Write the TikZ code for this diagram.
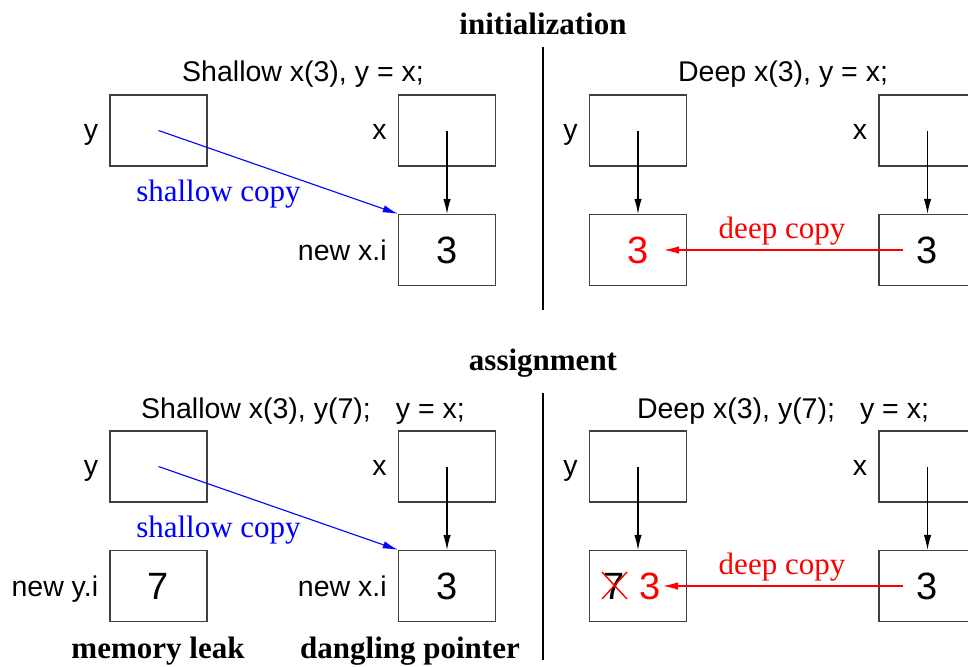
\documentclass[tikz,border=0pt]{standalone}
\usepackage{fontspec}
\setmainfont{Liberation Serif}
\setsansfont{Liberation Sans}
\usetikzlibrary{arrows.meta}
\begin{document}
\begin{tikzpicture}[x=1pt,y=-1pt,
 cell/.style={draw=black!75,line width=1.3pt,minimum width=97pt,minimum height=71pt,inner sep=0pt},
 lab/.style={font=\fontsize{28.5}{30}\selectfont\sffamily,inner sep=0pt,anchor=base east},
 ttl/.style={font=\fontsize{28.5}{30}\selectfont\sffamily,inner sep=0pt,anchor=base},
 num/.style={font=\fontsize{38}{40}\selectfont\sffamily,inner sep=0pt},
 head/.style={font=\fontsize{31}{34}\selectfont\rmfamily\bfseries,inner sep=0pt,anchor=base},
 note/.style={font=\fontsize{31}{34}\selectfont\rmfamily,inner sep=0pt,anchor=base},
 ptr/.style={-{Latex[length=15pt,width=7.5pt]},line width=1.1pt},
 divider/.style={line width=2pt,black},
]
\useasboundingbox (0,0) rectangle (968,666);
\clip (0,0) rectangle (968,666);

% ---------- headings ----------
\node[head] (hinit) at (543,35) {initialization};
\node[head] (hasg) at (543,370) {assignment};
\coordinate (d1a) at (543,47); \coordinate (d1b) at (543,310);
\coordinate (d2a) at (543,393); \coordinate (d2b) at (543,660);
\draw[divider] (d1a) -- (d1b);
\draw[divider] (d2a) -- (d2b);

% ---------- top left: shallow initialization ----------
\node[ttl] (t1) at (303,82) {Shallow x(3), y = x;};
\node[cell] (ys) at (158.5,130.5) {};
\node[cell] (xs) at (447,130.5) {};
\node[cell] (nxs) at (447,250) {};
\node[num] (nxsv) at (nxs.center) {3};
\node[lab] (lys) at ([xshift=-11pt,yshift=-9pt]ys.west) {y};
\node[lab] (lxs) at ([xshift=-11pt,yshift=-9pt]xs.west) {x};
\node[lab] (lnxs) at ([xshift=-11pt,yshift=-10pt]nxs.west) {new x.i};
\draw[ptr] (xs.center) -- (nxs.north);
\draw[ptr,blue] (ys.center) -- (nxs.north west);
\node[note,blue] (sc1) at (218.5,201) {shallow copy};

% ---------- top right: deep initialization ----------
\node[ttl] (t2) at (783,82) {Deep x(3), y = x;};
\node[cell] (yd) at (638,130.5) {};
\node[cell] (xd) at (927.5,130.5) {};
\node[cell] (nyd) at (638,250) {};
\node[cell] (nxd) at (927.5,250) {};
\node[num,red] (nydv) at (nyd.center) {3};
\node[num] (nxdv) at (nxd.center) {3};
\node[lab] (lyd) at ([xshift=-11pt,yshift=-9pt]yd.west) {y};
\node[lab] (lxd) at ([xshift=-11pt,yshift=-9pt]xd.west) {x};
\draw[ptr] (yd.center) -- (nyd.north);
\draw[ptr] (xd.center) -- (nxd.north);
\draw[ptr,red] ([xshift=-24.5pt]nxd.center) -- ([xshift=26pt]nyd.center);
\node[note,red] (dc1) at (782,238) {deep copy};

% ---------- bottom left: shallow assignment ----------
\node[ttl] (t3) at (303,418) {Shallow x(3), y(7);\hspace*{0.6em} y = x;};
\node[cell] (ys2) at (158.5,466.5) {};
\node[cell] (xs2) at (447,466.5) {};
\node[cell] (nys2) at (158.5,586) {};
\node[cell] (nxs2) at (447,586) {};
\node[num] (nys2v) at (nys2.center) {7};
\node[num] (nxs2v) at (nxs2.center) {3};
\node[lab] (lys2) at ([xshift=-11pt,yshift=-9pt]ys2.west) {y};
\node[lab] (lxs2) at ([xshift=-11pt,yshift=-9pt]xs2.west) {x};
\node[lab] (lnys2) at ([xshift=-11pt,yshift=-10pt]nys2.west) {new y.i};
\node[lab] (lnxs2) at ([xshift=-11pt,yshift=-10pt]nxs2.west) {new x.i};
\draw[ptr] (xs2.center) -- (nxs2.north);
\draw[ptr,blue] (ys2.center) -- (nxs2.north west);
\node[note,blue] (sc2) at (218.5,537) {shallow copy};
\node[head] (ml) at (158,658) {memory leak};
\node[head] (dp) at (410,658) {dangling pointer};

% ---------- bottom right: deep assignment ----------
\node[ttl] (t4) at (783,418) {Deep x(3), y(7);\hspace*{0.6em} y = x;};
\node[cell] (yd2) at (638,466.5) {};
\node[cell] (xd2) at (927.5,466.5) {};
\node[cell] (nyd2) at (638,586) {};
\node[cell] (nxd2) at (927.5,586) {};
\node[num] (old7) at (614,586) {7};
\node[num,red] (new3) at (650.5,586) {3};
\node[num] (nxd2v) at (nxd2.center) {3};
\draw[red,line width=1.4pt] ([xshift=-12pt,yshift=-13pt]old7.center) -- ([xshift=13pt,yshift=14pt]old7.center);
\draw[red,line width=1.4pt] ([xshift=-12pt,yshift=14pt]old7.center) -- ([xshift=13pt,yshift=-13pt]old7.center);
\node[lab] (lyd2) at ([xshift=-11pt,yshift=-9pt]yd2.west) {y};
\node[lab] (lxd2) at ([xshift=-11pt,yshift=-9pt]xd2.west) {x};
\draw[ptr] (yd2.center) -- (nyd2.north);
\draw[ptr] (xd2.center) -- (nxd2.north);
\draw[ptr,red] ([xshift=-24.5pt]nxd2.center) -- ([xshift=25pt]nyd2.center);
\node[note,red] (dc2) at (782,574) {deep copy};
\end{tikzpicture}
\end{document}
